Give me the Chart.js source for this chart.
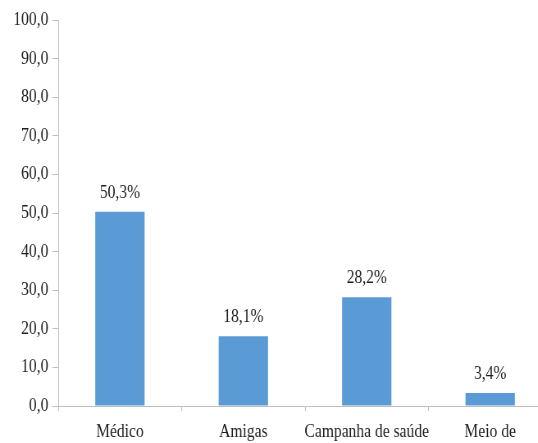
<!DOCTYPE html>
<html>
<head>
<meta charset="utf-8">
<script src="https://cdn.jsdelivr.net/npm/chart.js@4.4.1/dist/chart.umd.min.js"></script>
<style>
  html, body { margin: 0; padding: 0; background: #fff; overflow: hidden; }
  /* the whole chart is drawn wide and squeezed horizontally, giving the narrow serif look */
  #wrap { width: 673px; height: 443px; transform: scaleX(0.82); transform-origin: 0 0; }
</style>
</head>
<body>
<div id="wrap"><canvas id="fontes" width="673" height="443"></canvas></div>
<script>
// where the information came from (%)
const categorias = ['Médico', 'Amigas', 'Campanha de saúde', 'Meio de'];
const percentuais = [50.3, 18.1, 28.2, 3.4];
const eixoY = { min: 0, max: 100, passo: 10 };

const ESCALA_X = 0.82;
const AZUL = '#5b9bd5';
const CINZA = '#bfbfbf';
const TEXTO = '#1e1e1e';
const FONTE = '"Liberation Serif", "Times New Roman", serif';

function virgula(v, casas) {
  return Number(v).toFixed(casas).replace('.', ',');
}

// percent labels above each bar
const rotulos = {
  id: 'rotulos',
  afterDatasetsDraw(chart) {
    const ctx = chart.ctx;
    const meta = chart.getDatasetMeta(0);
    ctx.save();
    ctx.font = '19px ' + FONTE;
    ctx.fillStyle = TEXTO;
    ctx.textAlign = 'center';
    ctx.textBaseline = 'middle';
    meta.data.forEach((bar, i) => {
      ctx.fillText(virgula(percentuais[i], 1) + '%', bar.x, bar.y - 19);
    });
    ctx.restore();
  }
};

new Chart(document.getElementById('fontes'), {
  type: 'bar',
  data: {
    labels: categorias,
    datasets: [{
      data: percentuais,
      backgroundColor: AZUL,
      borderWidth: 0,
      categoryPercentage: 1.0,
      barPercentage: 0.4
    }]
  },
  options: {
    responsive: false,
    animation: false,
    layout: { padding: { top: 20, right: 0, bottom: 0, left: 0 } },
    plugins: { legend: { display: false }, tooltip: { enabled: false } },
    scales: {
      x: {
        offset: true,
        grid: { display: true, offset: true, drawOnChartArea: false, drawTicks: true, tickLength: 5, color: CINZA },
        border: { color: CINZA },
        ticks: { color: TEXTO, font: { family: FONTE, size: 19 }, padding: 10, maxRotation: 0, autoSkip: false },
        afterFit(scale) { scale.height = 37; }
      },
      y: {
        min: eixoY.min,
        max: eixoY.max,
        grid: { display: true, drawOnChartArea: false, drawTicks: true, tickLength: 7, color: CINZA },
        border: { color: CINZA },
        ticks: {
          stepSize: eixoY.passo,
          color: TEXTO,
          font: { family: FONTE, size: 19 },
          padding: 5,
          callback: (v) => virgula(v, 1)
        },
        afterFit(scale) { scale.width = Math.round(58 / ESCALA_X); }
      }
    }
  },
  plugins: [rotulos]
});
</script>
</body>
</html>
